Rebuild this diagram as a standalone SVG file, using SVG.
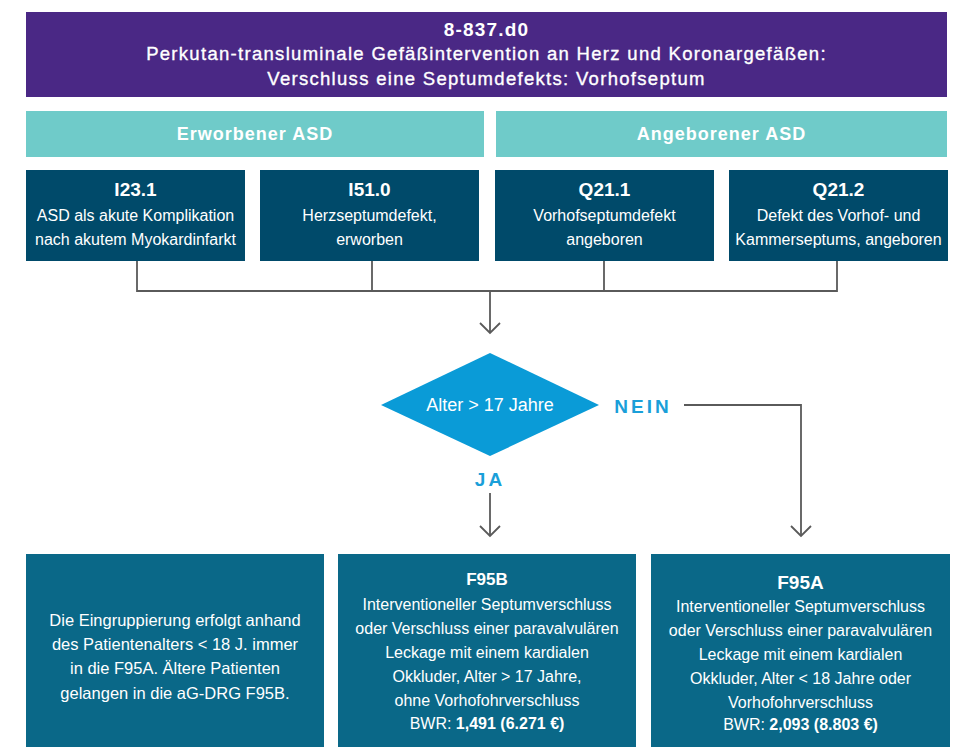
<svg xmlns="http://www.w3.org/2000/svg" width="956" height="747" viewBox="0 0 956 747">
<defs>
<style>
.t{font-family:"Liberation Sans",Arial,sans-serif;fill:#ffffff;text-anchor:middle}
.hd{font-size:18.5px;letter-spacing:1.3px;stroke:#ffffff;stroke-width:0.35}
.hb{font-weight:bold}
.cat{font-size:18px;font-weight:bold;letter-spacing:1px}
.code{font-size:19px;font-weight:bold}
.body{font-size:16px}
.lbl{font-family:"Liberation Sans",Arial,sans-serif;font-size:19px;font-weight:bold;fill:#1a9fd9;letter-spacing:3px;text-anchor:middle}
.ln{fill:none;stroke:#5a5a5a;stroke-width:1.8}
.dark{fill:#004a6a}
.res{fill:#0a6888}
</style>
<marker id="chev" viewBox="-12 -12 14 24" refX="0" refY="0" markerWidth="14" markerHeight="24" markerUnits="userSpaceOnUse" orient="auto">
<path d="M-10,-10 L0,0 L-10,10" fill="none" stroke="#5a5a5a" stroke-width="1.8"/>
</marker>
</defs>
<rect width="956" height="747" fill="#ffffff"/>

<g id="header">
<rect x="26" y="12" width="921" height="85" fill="#4a2885"/>
<text class="t hb" style="font-size:19px;letter-spacing:1.2px" x="486.5" y="36">8-837.d0</text>
<text class="t hd" x="486.5" y="60">Perkutan-transluminale Gefäßintervention an Herz und Koronargefäßen:</text>
<text class="t hd" x="486.5" y="85">Verschluss eine Septumdefekts: Vorhofseptum</text>
</g>

<g id="cat-erworben">
<rect x="26" y="111" width="458" height="46" fill="#6fcbc9"/>
<text class="t cat" x="255" y="140">Erworbener ASD</text>
</g>
<g id="cat-angeboren">
<rect x="496" y="111" width="451" height="46" fill="#6fcbc9"/>
<text class="t cat" x="721.5" y="140">Angeborener ASD</text>
</g>

<g id="i231">
<rect class="dark" x="26" y="170" width="219" height="91"/>
<text class="t code" x="135.5" y="196">I23.1</text>
<text class="t body" x="135.5" y="221">ASD als akute Komplikation</text>
<text class="t body" x="135.5" y="245">nach akutem Myokardinfarkt</text>
</g>
<g id="i510">
<rect class="dark" x="260" y="170" width="219" height="91"/>
<text class="t code" x="369.5" y="196">I51.0</text>
<text class="t body" x="369.5" y="221">Herzseptumdefekt,</text>
<text class="t body" x="369.5" y="245">erworben</text>
</g>
<g id="q211">
<rect class="dark" x="495" y="170" width="219" height="91"/>
<text class="t code" x="604.5" y="196">Q21.1</text>
<text class="t body" x="604.5" y="221">Vorhofseptumdefekt</text>
<text class="t body" x="604.5" y="245">angeboren</text>
</g>
<g id="q212">
<rect class="dark" x="729" y="170" width="219" height="91"/>
<text class="t code" x="838.5" y="196">Q21.2</text>
<text class="t body" x="838.5" y="221">Defekt des Vorhof- und</text>
<text class="t body" x="838.5" y="245">Kammerseptums, angeboren</text>
</g>

<g id="decision">
<polygon points="490,353 599,405 490,456 381,405" fill="#0a9bd7"/>
<text class="t" style="font-size:18px" x="490" y="411">Alter &gt; 17 Jahre</text>
</g>

<g id="note">
<rect class="res" x="26" y="554" width="298" height="193"/>
<text class="t" style="font-size:16.5px" x="175" y="626">Die Eingruppierung erfolgt anhand</text>
<text class="t" style="font-size:16.5px" x="175" y="650">des Patientenalters &lt; 18 J. immer</text>
<text class="t" style="font-size:16.5px" x="175" y="674">in die F95A. Ältere Patienten</text>
<text class="t" style="font-size:16.5px" x="175" y="699">gelangen in die aG-DRG F95B.</text>
</g>

<g id="f95b">
<rect class="res" x="338" y="554" width="298" height="193"/>
<text class="t hb" style="font-size:17px" x="487" y="585">F95B</text>
<text class="t body" x="487" y="610">Interventioneller Septumverschluss</text>
<text class="t body" x="487" y="634">oder Verschluss einer paravalvulären</text>
<text class="t body" x="487" y="658">Leckage mit einem kardialen</text>
<text class="t body" x="487" y="682">Okkluder, Alter &gt; 17 Jahre,</text>
<text class="t body" x="487" y="706">ohne Vorhofohrverschluss</text>
<text class="t body" x="487" y="729">BWR: <tspan font-weight="bold">1,491 (6.271 €)</tspan></text>
</g>

<g id="f95a">
<rect class="res" x="651" y="554" width="299" height="193"/>
<text class="t hb" style="font-size:19px" x="800.5" y="589">F95A</text>
<text class="t body" x="800.5" y="612">Interventioneller Septumverschluss</text>
<text class="t body" x="800.5" y="636">oder Verschluss einer paravalvulären</text>
<text class="t body" x="800.5" y="660">Leckage mit einem kardialen</text>
<text class="t body" x="800.5" y="684">Okkluder, Alter &lt; 18 Jahre oder</text>
<text class="t body" x="800.5" y="708">Vorhofohrverschluss</text>
<text class="t body" x="800.5" y="730">BWR: <tspan font-weight="bold">2,093 (8.803 €)</tspan></text>
</g>

<g id="connectors">
<path class="ln" d="M137,261 V291 M372,261 V291 M604,261 V291 M837,261 V291 M136.1,291 H837.9"/>
<path class="ln" d="M490,291 V333" marker-end="url(#chev)"/>
<path class="ln" d="M490,493 V536" marker-end="url(#chev)"/>
<path class="ln" d="M684,405 H801 V536" marker-end="url(#chev)"/>
<text class="lbl" x="643" y="413">NEIN</text>
<text class="lbl" x="490" y="486">JA</text>
</g>
</svg>
